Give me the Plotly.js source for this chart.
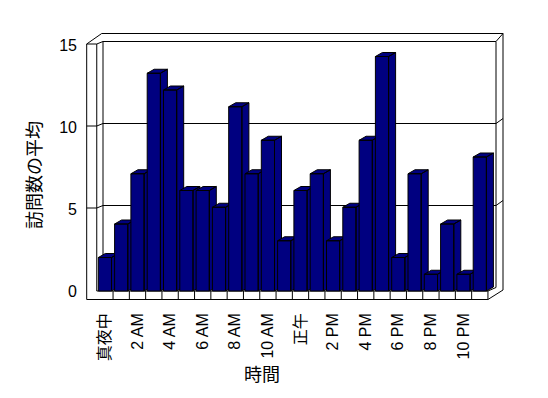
<!DOCTYPE html>
<html><head><meta charset="utf-8">
<script src="https://cdn.plot.ly/plotly-3.0.1.min.js"></script>
<style>html,body{margin:0;padding:0;background:#fff;} #chart{width:548px;height:398px;}</style>
</head><body><div id="chart"></div>
<script>
// ---- data ----
const hourLabels = ['真夜中','1 AM','2 AM','3 AM','4 AM','5 AM','6 AM','7 AM','8 AM','9 AM','10 AM','11 AM',
                    '正午','1 PM','2 PM','3 PM','4 PM','5 PM','6 PM','7 PM','8 PM','9 PM','10 PM','11 PM'];
const avgVisits = [2,4,7,13,12,6,6,5,11,7,9,3,6,7,3,5,9,14,2,7,1,4,1,8];
const xTickIndex = [0,2,4,6,8,10,12,14,16,18,20,22];
const yTickValues = [0,5,10,15];
const xTitle = '時間';
const yTitle = '訪問数の平均';

// ---- geometry (layout only) ----
const L = 80, T = 25, PW = 430, PH = 280;
const PXU = 16.3, PYU = 16.75;      // pixels per unit on the front plane
const X0PX = 104.9, Y0PX = 291;     // pixel of first category centre / of value 0
const xRange = [(L - X0PX) / PXU, (L + PW - X0PX) / PXU];
const yRange = [-(T + PH - Y0PX) / PYU, (Y0PX - T) / PYU];
const HW = 6.6 / PXU, DX = 7 / PXU, DY = 4 / PYU;
const BACK = 16.4 / PYU;            // back wall scale relative to front
const FONT = 'Liberation Sans, Arial, Noto Sans CJK JP, sans-serif';

const px = p => (p - L) / PW;
const py = p => (T + PH - p) / PH;
const shapes = [];
function seg(x1, y1, x2, y2) {
  shapes.push({type:'line', xref:'paper', yref:'paper', x0:px(x1), y0:py(y1), x1:px(x2), y1:py(y2),
               line:{color:'#000', width:1}, layer:'below'});
}
// frame
const FL = X0PX - 0.5 * PXU, FR = X0PX + (avgVisits.length - 0.5) * PXU;
const LO = 86.7, BI = FL + 6.25, RI = 496, RO = 503, YB = 299.5, TOPO = 33.5;
const backY = v => 287.5 - 16.4 * v;
seg(LO, 44, LO, YB);
seg(LO, YB, FR, YB);
seg(FL, Y0PX, FR, Y0PX);
seg(FR, Y0PX, FR, YB);
seg(FR, Y0PX, RI, backY(0));
seg(FR, YB, RO, 290);
seg(RO, 290, RO, TOPO);
seg(101.7, TOPO, RO, TOPO);
seg(LO, 44, 101.7, TOPO);
seg(FL, 44, FL, Y0PX);
seg(BI, backY(15), BI, backY(0));
seg(RI, backY(15), RI, backY(0));
seg(RI, backY(15), RO, TOPO);
[5, 10, 15].forEach(v => {
  const yb = backY(v), ye = yb + 2.5;
  seg(LO, ye, FL, ye);
  seg(FL, ye, BI, yb);
  seg(BI, yb, RI, yb);
  if (v !== 15) seg(RI, yb, RO, yb - 5);
});
for (let i = 1; i < avgVisits.length; i++) {
  const x = FL + i * PXU;
  seg(x, Y0PX, x, YB);
}

// ---- bars (front, side, top faces) ----
const traces = avgVisits.map((v, i) => ({
  type: 'scatter', mode: 'lines', fill: 'toself', fillcolor: '#000080',
  line: {color: '#000', width: 1}, hoverinfo: 'skip', showlegend: false,
  name: hourLabels[i],
  x: [i-HW, i+HW, i+HW, i-HW, i-HW, null,
      i+HW, i+HW+DX, i+HW+DX, i+HW, i+HW, null,
      i-HW, i+HW, i+HW+DX, i-HW+DX, i-HW],
  y: [0, 0, v, v, 0, null,
      0, DY, v+DY, v, 0, null,
      v, v, v+DY, v+DY, v]
}));

const layout = {
  width: 548, height: 398,
  margin: {l: L, r: 548 - L - PW, t: T, b: 398 - T - PH, pad: 0},
  paper_bgcolor: '#fff', plot_bgcolor: 'rgba(0,0,0,0)',
  font: {family: FONT, color: '#000', size: 16},
  showlegend: false,
  xaxis: {range: xRange, showgrid: false, zeroline: false, showline: false, ticks: '',
          tickmode: 'array', tickvals: xTickIndex, ticktext: xTickIndex.map(i => hourLabels[i]),
          tickangle: -90, tickfont: {size: 16, family: FONT, color: '#000'}, ticklabelstandoff: 4,
          fixedrange: true},
  yaxis: {range: yRange, showgrid: false, zeroline: false, showline: false, ticks: '',
          tickmode: 'array', tickvals: yTickValues.map(v => v * BACK), ticktext: yTickValues.map(String),
          tickfont: {size: 16, family: FONT, color: '#000'}, ticklabelstandoff: 2, fixedrange: true},
  shapes: shapes,
  annotations: [
    {text: xTitle, xref: 'paper', yref: 'paper', x: px(261.5), y: py(375), showarrow: false,
     xanchor: 'center', yanchor: 'middle', font: {size: 18, family: FONT, color: '#000'}},
    {text: yTitle, xref: 'paper', yref: 'paper', x: px(35), y: py(175), showarrow: false, textangle: -90,
     xanchor: 'center', yanchor: 'middle', font: {size: 18, family: FONT, color: '#000'}}
  ]
};
Plotly.newPlot('chart', traces, layout, {displayModeBar: false, staticPlot: true});
</script>
</body></html>
